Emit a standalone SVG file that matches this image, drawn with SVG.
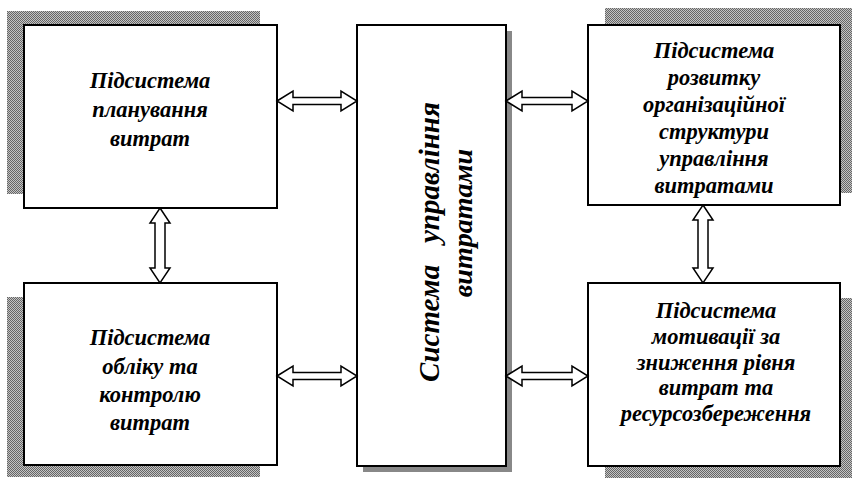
<svg xmlns="http://www.w3.org/2000/svg" width="852" height="478" viewBox="0 0 852 478">
<defs>
<pattern id="dots" width="2" height="2" patternUnits="userSpaceOnUse">
<rect width="2" height="2" fill="#c4c4c4"/>
<rect width="1" height="1" fill="#666"/>
<rect x="1" y="1" width="1" height="1" fill="#666"/>
</pattern>
</defs>
<style>
.box{fill:#fff;stroke:#000;stroke-width:2}
.sh{fill:url(#dots)}
.t{font-family:"Liberation Serif","Times New Roman",serif;font-weight:bold;font-style:italic;font-size:22.5px;text-anchor:middle;fill:#000}
.ct{font-family:"Liberation Serif","Times New Roman",serif;font-weight:bold;font-style:italic;font-size:29px;text-anchor:middle;fill:#000}
.arr{fill:#fff;stroke:#000;stroke-width:1.5;stroke-linejoin:miter}
</style>
<rect width="852" height="478" fill="#fff"/>
<g id="planning">
<rect class="sh" x="7" y="11" width="253" height="183"/>
<rect class="box" x="24" y="25" width="253" height="183"/>
<text class="t"><tspan x="150" y="88">Підсистема</tspan><tspan x="150" y="117">планування</tspan><tspan x="150" y="146">витрат</tspan></text>
</g>
<g id="accounting">
<rect class="sh" x="7" y="297" width="253" height="180"/>
<rect class="box" x="24" y="283" width="253" height="182"/>
<text class="t"><tspan x="150" y="345">Підсистема</tspan><tspan x="150" y="374">обліку та</tspan><tspan x="150" y="402">контролю</tspan><tspan x="150" y="430">витрат</tspan></text>
</g>
<g id="system">
<rect x="363" y="31" width="149" height="441" fill="#888"/>
<rect class="box" x="357" y="25" width="149" height="441"/>
<text class="ct" transform="translate(439,242) rotate(-90)" x="0" y="0" xml:space="preserve">Система   управління</text>
<text class="ct" transform="translate(472,223) rotate(-90)" x="0" y="0" style="font-size:28px">витратами</text>
</g>
<g id="structure">
<rect class="sh" x="605" y="8" width="252" height="185"/>
<rect class="box" x="588" y="25" width="252" height="180"/>
<text class="t"><tspan x="714" y="58">Підсистема</tspan><tspan x="714" y="85">розвитку</tspan><tspan x="714" y="112">організаційної</tspan><tspan x="714" y="139">структури</tspan><tspan x="714" y="166">управління</tspan><tspan x="714" y="193">витратами</tspan></text>
</g>
<g id="motivation">
<rect class="sh" x="605" y="298" width="252" height="180"/>
<rect class="box" x="588" y="283" width="252" height="183"/>
<text class="t"><tspan x="716" y="318">Підсистема</tspan><tspan x="716" y="344">мотивації за</tspan><tspan x="716" y="370">зниження рівня</tspan><tspan x="716" y="395">витрат та</tspan><tspan x="716" y="421">ресурсозбереження</tspan></text>
</g>
<g id="connectors">
<polygon class="arr" points="277,101 293,91 293,97.5 341,97.5 341,91 357,101 341,111 341,104.5 293,104.5 293,111"/>
<polygon class="arr" points="506,101 522,91 522,97.5 572,97.5 572,91 588,101 572,111 572,104.5 522,104.5 522,111"/>
<polygon class="arr" points="277,376 293,366 293,372.5 341,372.5 341,366 357,376 341,386 341,379.5 293,379.5 293,386"/>
<polygon class="arr" points="506,376 522,366 522,372.5 572,372.5 572,366 588,376 572,386 572,379.5 522,379.5 522,386"/>
<polygon class="arr" points="160,208 170,223 165,223 165,268 170,268 160,283 150,268 155,268 155,223 150,223"/>
<polygon class="arr" points="703,205 713,220 708,220 708,268 713,268 703,283 693,268 698,268 698,220 693,220"/>
</g>
</svg>
